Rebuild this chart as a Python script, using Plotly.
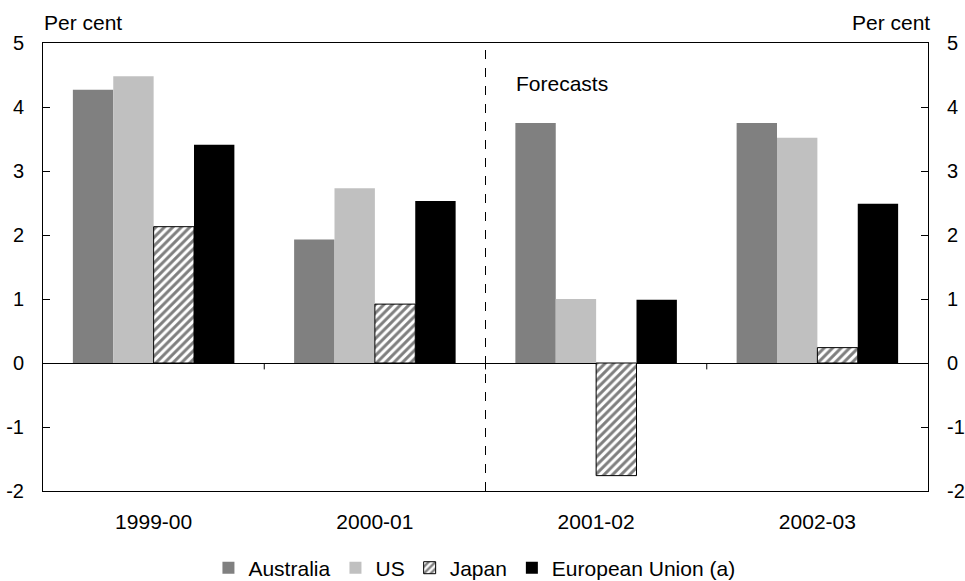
import plotly.graph_objects as go

years = ["1999-00", "2000-01", "2001-02", "2002-03"]
australia = [4.27, 1.93, 3.75, 3.75]
us = [4.48, 2.73, 1.0, 3.52]
japan = [2.13, 0.92, -1.76, 0.24]
eu = [3.41, 2.53, 0.99, 2.49]
y_ticks = [-2, -1, 0, 1, 2, 3, 4, 5]
y_labels = ["-2", "-1", "0", "1", "2", "3", "4", "5"]

FONT = "Liberation Sans, Arial, sans-serif"

fig = go.Figure()
fig.add_trace(go.Bar(name="Australia", x=years, y=australia, marker=dict(color="#808080", line=dict(width=0))))
fig.add_trace(go.Bar(name="US", x=years, y=us, marker=dict(color="#c0c0c0", line=dict(width=0))))
fig.add_trace(go.Bar(name="Japan", x=years, y=japan,
                     marker=dict(color="white", line=dict(color="black", width=1),
                                 pattern=dict(shape="/", fgcolor="black", bgcolor="white", size=6, solidity=0.5))))
fig.add_trace(go.Bar(name="European Union (a)", x=years, y=eu, marker=dict(color="black", line=dict(width=0))))
# invisible trace for right axis
fig.add_trace(go.Scatter(x=years, y=australia, yaxis="y2", mode="markers", marker=dict(opacity=0),
                         showlegend=False, hoverinfo="skip"))

# x-axis boundary ticks on zero line
for b in [0.5, 1.5, 2.5]:
    fig.add_shape(type="line", xref="x", yref="y", x0=b, x1=b, y0=0, y1=-0.1,
                  line=dict(color="black", width=1))
# forecast divider
fig.add_shape(type="line", xref="x", yref="y", x0=1.5, x1=1.5, y0=-2, y1=5,
              line=dict(color="black", width=1, dash="dash"))

fig.add_annotation(text="Forecasts", xref="x", yref="paper", x=1.5, y=0.91, xshift=28,
                   xanchor="left", yanchor="middle", showarrow=False, font=dict(size=21, color="black"))
fig.add_annotation(text="Per cent", xref="paper", yref="paper", x=0, y=1, xshift=-1, yshift=7,
                   xanchor="left", yanchor="bottom", showarrow=False, font=dict(size=21, color="black"))
fig.add_annotation(text="Per cent", xref="paper", yref="paper", x=1, y=1, xshift=4, yshift=7,
                   xanchor="right", yanchor="bottom", showarrow=False, font=dict(size=21, color="black"))

fig.update_layout(
    width=965, height=581,
    margin=dict(l=43, r=37, t=43, b=90, autoexpand=False),
    paper_bgcolor="white", plot_bgcolor="white",
    font=dict(family=FONT, size=21, color="black"),
    barmode="group", bargap=0.27, bargroupgap=0,
    showlegend=True,
    legend=dict(orientation="h", x=0.4875, xanchor="center", y=-0.172, yanchor="middle",
                font=dict(size=21), traceorder="normal", itemwidth=30),
    xaxis=dict(type="category", showline=True, mirror=True, linecolor="black", linewidth=1,
               ticks="", showgrid=False, zeroline=False, ticklabelstandoff=12,
               range=[-0.5, 3.5], automargin=False),
    yaxis=dict(range=[-2, 5], tickvals=y_ticks, ticktext=y_labels, ticks="inside", ticklen=7, tickcolor="black",
               showline=True, linecolor="black", linewidth=1, showgrid=False, automargin=False,
               zeroline=True, zerolinecolor="black", zerolinewidth=1, ticklabelstandoff=14,
               tickfont=dict(size=20)),
    yaxis2=dict(range=[-2, 5], tickvals=y_ticks, ticktext=y_labels, ticks="inside", ticklen=7, tickcolor="black",
                overlaying="y", side="right", showline=True, linecolor="black", linewidth=1,
                showgrid=False, zeroline=False, ticklabelstandoff=14, automargin=False,
                tickfont=dict(size=20)),
)

fig.write_html("out.html", config={"displayModeBar": False},
               post_script="document.body.style.margin='0';document.body.style.overflow='hidden';")
